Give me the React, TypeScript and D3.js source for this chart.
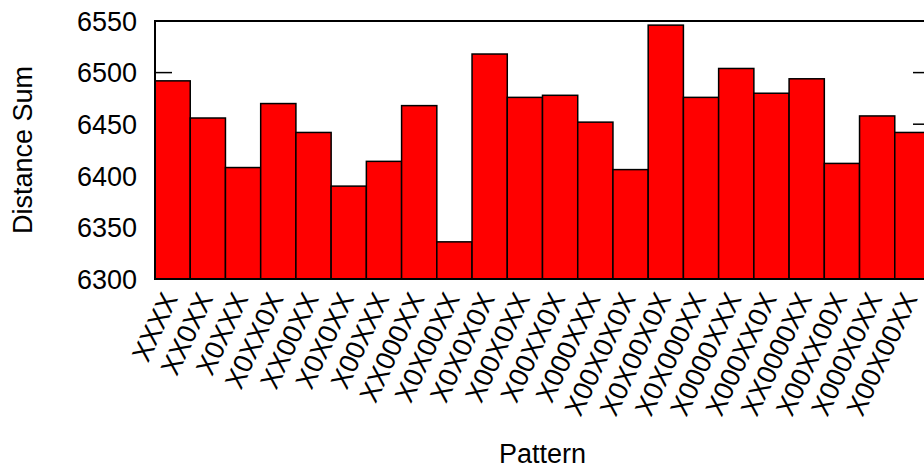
import React, { useEffect, useRef } from "react";
import * as d3 from "d3";

const patterns = [
  "XXXX", "XX0XX", "X0XXX", "X0XX0X", "XX00XX", "X0X0XX", "X00XXX",
  "XX000XX", "X0X00XX", "X0X0X0X", "X00X0XX", "X00XX0X", "X000XXX",
  "X00X0X0X", "X0X00X0X", "X0X000XX", "X0000XXX", "X000XX0X",
  "XX0000XX", "X00XX00X", "X000X0XX", "X00X00XX",
];

const distanceSums = [
  6492, 6456, 6408, 6470, 6442, 6390, 6414,
  6468, 6336, 6518, 6476, 6478, 6452,
  6406, 6546, 6476, 6504, 6480,
  6494, 6412, 6458, 6442,
];

const yTicks = [6300, 6350, 6400, 6450, 6500, 6550];

const App = () => {
  const svgRef = useRef(null);

  useEffect(() => {
    const width = 924;
    const height = 468;
    const margin = { top: 21, right: -6, bottom: 189, left: 155 };
    const font = "'Liberation Sans', Arial, sans-serif";

    const svg = d3.select(svgRef.current);
    svg.selectAll("*").remove();

    const data = patterns.map((p, i) => ({ pattern: p, value: distanceSums[i] }));

    const x = d3
      .scaleBand()
      .domain(patterns)
      .range([margin.left, width - margin.right])
      .padding(0);

    const y = d3
      .scaleLinear()
      .domain([6300, 6550])
      .range([height - margin.bottom, margin.top]);

    const x0 = margin.left;
    const x1 = width - margin.right;
    const yb = height - margin.bottom;

    // inward ticks on both sides (bars get drawn over them)
    svg
      .append("g")
      .selectAll("line.tl")
      .data(yTicks)
      .enter()
      .append("line")
      .attr("x1", x0)
      .attr("x2", x0 + 17)
      .attr("y1", (d) => y(d))
      .attr("y2", (d) => y(d))
      .attr("stroke", "black")
      .attr("stroke-width", 1.5);

    svg
      .append("g")
      .selectAll("line.tr")
      .data(yTicks)
      .enter()
      .append("line")
      .attr("x1", x1)
      .attr("x2", x1 - 17)
      .attr("y1", (d) => y(d))
      .attr("y2", (d) => y(d))
      .attr("stroke", "black")
      .attr("stroke-width", 1.5);

    // bars
    svg
      .append("g")
      .selectAll("rect")
      .data(data)
      .enter()
      .append("rect")
      .attr("x", (d) => x(d.pattern))
      .attr("y", (d) => y(d.value))
      .attr("width", x.bandwidth())
      .attr("height", (d) => yb - y(d.value))
      .attr("fill", "#ff0000")
      .attr("stroke", "black")
      .attr("stroke-width", 1.5);

    // frame
    svg
      .append("rect")
      .attr("x", x0)
      .attr("y", margin.top)
      .attr("width", x1 - x0)
      .attr("height", yb - margin.top)
      .attr("fill", "none")
      .attr("stroke", "black")
      .attr("stroke-width", 2);

    // y tick labels
    svg
      .append("g")
      .selectAll("text")
      .data(yTicks)
      .enter()
      .append("text")
      .attr("x", 137)
      .attr("y", (d) => y(d))
      .attr("dy", "0.36em")
      .attr("text-anchor", "end")
      .style("font-family", font)
      .style("font-size", "27px")
      .text((d) => d);

    // x tick labels, rotated
    svg
      .append("g")
      .selectAll("text")
      .data(patterns)
      .enter()
      .append("text")
      .attr(
        "transform",
        (d) => `translate(${x(d) + x.bandwidth() / 2 - 3},${yb + 15}) rotate(-65)`
      )
      .attr("text-anchor", "end")
      .attr("dy", "0.36em")
      .style("font-family", font)
      .style("font-size", "27px")
      .text((d) => d);

    // axis titles
    svg
      .append("text")
      .attr("x", (x0 + x1) / 2)
      .attr("y", 463)
      .attr("text-anchor", "middle")
      .style("font-family", font)
      .style("font-size", "27px")
      .text("Pattern");

    svg
      .append("text")
      .attr("transform", `translate(32,${(margin.top + yb) / 2}) rotate(-90)`)
      .attr("text-anchor", "middle")
      .style("font-family", font)
      .style("font-size", "27px")
      .text("Distance Sum");
  }, []);

  return (
    <svg
      ref={svgRef}
      width={924}
      height={468}
      style={{ position: "absolute", left: 0, top: 0, background: "white" }}
    />
  );
};

export default App;
